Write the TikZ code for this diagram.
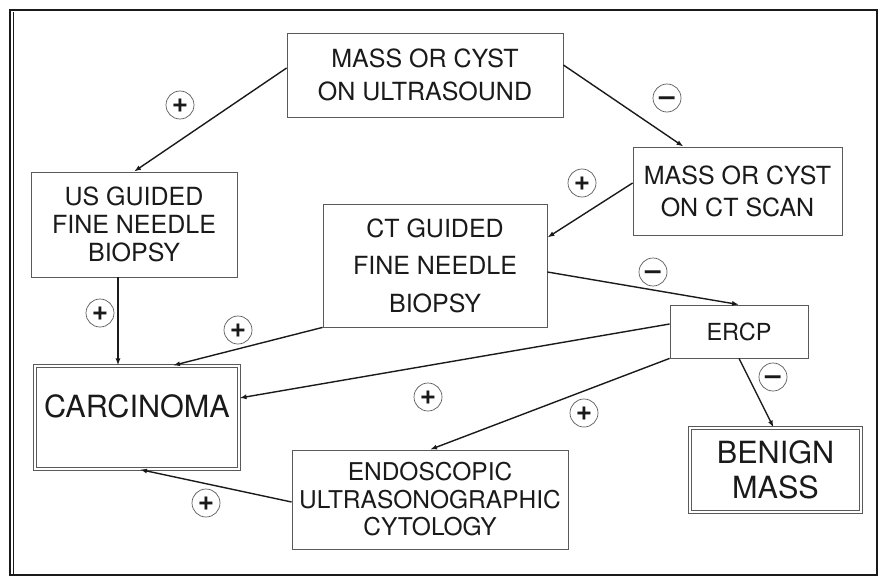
\documentclass[tikz,border=0pt]{standalone}
\usepackage{fontspec}
\setmainfont{TeX Gyre Heros}
\usetikzlibrary{arrows.meta,positioning}
\definecolor{ink}{HTML}{1A1A1A}
\definecolor{edge}{HTML}{5A5A5A}

\tikzset{
  box/.style={draw=edge, line width=0.8pt, align=center, text=ink, inner sep=0pt},
  endbox/.style={box, double, double distance=2.2pt, line width=0.7pt},
  flow/.style={-{Latex[length=7pt,width=5pt]}, ink, line width=1.4pt},
  sign/.style={circle, draw=edge, line width=0.7pt, minimum size=28pt, inner sep=0pt,
               text height=14pt, text depth=0pt, text=ink,
               font=\fontsize{28}{28}\selectfont\bfseries},
}

\begin{document}
\begin{tikzpicture}[x=1pt, y=-1pt]
  \useasboundingbox (0,0) rectangle (878,578);
  % page frame
  \draw[ink, line width=1.2pt] (10,10) rectangle (877,575);
  \draw[ink, line width=0.8pt] (13,12) -- (13,575);
  % boxes
  \node[box, minimum width=276pt, minimum height=84pt, font=\fontsize{25}{32.5}\selectfont]
        (usmass) at (425,75) {MASS OR CYST\\ON ULTRASOUND};
  \node[box, minimum width=209pt, minimum height=88pt, font=\fontsize{25}{32}\selectfont]
        (ctmass) at (737.5,191) {MASS OR CYST\\ON CT SCAN};
  \node[box, minimum width=206pt, minimum height=105pt, font=\fontsize{25}{28}\selectfont]
        (usfnb) at (134,224.5) {US GUIDED\\FINE NEEDLE\\BIOPSY};
  \node[box, minimum width=224pt, minimum height=123pt, font=\fontsize{25}{37.5}\selectfont]
        (ctfnb) at (435,265.5) {CT GUIDED\\FINE NEEDLE\\BIOPSY};
  \node[box, minimum width=138pt, minimum height=53pt, font=\fontsize{23.5}{28}\selectfont]
        (ercp) at (739,331.5) {ERCP};
  \node[endbox, minimum width=204.4pt, minimum height=103.4pt, text height=22pt, text depth=22pt,
        font=\fontsize{30.6}{35}\selectfont] (carc) at (137,417.5) {CARCINOMA};
  \node[endbox, minimum width=171.4pt, minimum height=84.4pt, font=\fontsize{30.6}{35}\selectfont]
        (benign) at (775.5,470) {BENIGN\\MASS};
  \node[box, minimum width=276pt, minimum height=99pt, font=\fontsize{24.5}{27.5}\selectfont]
        (endo) at (430,499.5) {ENDOSCOPIC\\ULTRASONOGRAPHIC\\CYTOLOGY};
  % connectors
  \draw[flow] ([yshift=7pt]usmass.west) -- (usfnb.north);
  \draw[flow] ([yshift=10pt]usmass.east) -- ([xshift=-54pt]ctmass.north);
  \draw[flow] ([yshift=8pt]ctmass.west) -- ([yshift=28pt]ctfnb.east);
  \draw[flow] ([yshift=-6.5pt]ctfnb.east) -- (ercp.north);
  \draw[flow] ([xshift=-16pt]usfnb.south) -- ([xshift=-16pt]usfnb.south |- carc.north);
  \draw[flow] (ctfnb.south west) -- ([xshift=36pt]carc.north);
  \draw[flow] ([yshift=7.5pt]ercp.west) -- ([yshift=19.5pt]carc.east);
  \draw[flow] (ercp.south west) -- (endo.north);
  \draw[flow] (ercp.south) -- ([xshift=-2pt]benign.north);
  \draw[flow] ([yshift=-2.5pt]endo.west) -- ([xshift=3pt]carc.south);
  % outcome signs
  \node[sign] (s1) at (180,105) {+};
  \node[sign] (s2) at (667,98) {--};
  \node[sign] (s3) at (582,183) {+};
  \node[sign] (s4) at (653,272) {--};
  \node[sign] (s5) at (100,313) {+};
  \node[sign] (s6) at (238,330) {+};
  \node[sign] (s7) at (428,397) {+};
  \node[sign] (s8) at (584,413) {+};
  \node[sign] (s9) at (773,377) {--};
  \node[sign] (s10) at (206,503) {+};
\end{tikzpicture}
\end{document}
